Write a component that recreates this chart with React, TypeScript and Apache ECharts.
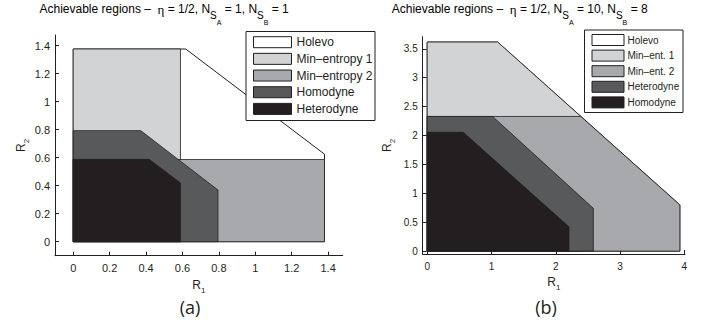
import React, { useEffect, useRef } from "react";
import * as echarts from "echarts";

// ---------- Panel (a): eta = 1/2, N_SA = 1, N_SB = 1 ----------
const holevoA = [[0, 0], [0, 1.376], [0.618, 1.376], [1.38, 0.625], [1.38, 0]];
const minEnt1A = [[0, 0], [0, 1.376], [0.589, 1.376], [0.589, 0]];
const minEnt2A = [[0, 0], [0, 0.587], [1.38, 0.587], [1.38, 0]];
const homodyneA = [[0, 0], [0, 0.793], [0.371, 0.793], [0.795, 0.369], [0.795, 0]];
const heterodyneA = [[0, 0], [0, 0.588], [0.417, 0.588], [0.589, 0.42], [0.589, 0]];

// ---------- Panel (b): eta = 1/2, N_SA = 10, N_SB = 8 ----------
const holevoB = [[0, 0], [0, 3.617], [1.096, 3.617], [3.93, 0.8], [3.93, 0]];
const minEnt1B = [[0, 0], [0, 3.617], [1.096, 3.617], [2.39, 2.33], [2.39, 0]];
const minEnt2B = [[0, 0], [0, 2.33], [2.39, 2.33], [3.93, 0.8], [3.93, 0]];
const heterodyneB = [[0, 0], [0, 2.33], [1.017, 2.33], [2.584, 0.74], [2.584, 0]];
const homodyneB = [[0, 0], [0, 2.057], [0.56, 2.057], [2.205, 0.42], [2.205, 0]];

// ---------- ticks ----------
const xTicksA = [0, 0.2, 0.4, 0.6, 0.8, 1, 1.2, 1.4];
const yTicksA = [0, 0.2, 0.4, 0.6, 0.8, 1, 1.2, 1.4];
const xTicksB = [0, 1, 2, 3, 4];
const yTicksB = [0, 0.5, 1, 1.5, 2, 2.5, 3, 3.5];

// ---------- legends ----------
const legendA = ["Holevo", "Min\u2013entropy 1", "Min\u2013entropy 2", "Homodyne", "Heterodyne"];
const legendB = ["Holevo", "Min\u2013ent. 1", "Min\u2013ent. 2", "Heterodyne", "Homodyne"];

const C_WHITE = "#ffffff";
const C_LIGHT = "#d1d3d4";
const C_MIDL = "#a7a9ac";
const C_MID = "#58595b";
const C_DARK = "#231f20";
const INK = "#231f20";
const FONT = "'Liberation Sans', Arial, Helvetica, sans-serif";

const legendColors = [C_WHITE, C_LIGHT, C_MIDL, C_MID, C_DARK];

function polySeries(name: string, pts: number[][], fill: string, idx: number, lw = 0.8) {
  return {
    type: "custom",
    name,
    xAxisIndex: idx,
    yAxisIndex: idx,
    silent: true,
    clip: false,
    data: pts,
    renderItem: (params: any, api: any) => {
      if (params.dataIndex !== 0) return null;
      const points = pts.map((p) => api.coord(p));
      return {
        type: "polygon",
        shape: { points },
        style: { fill, stroke: INK, lineWidth: lw },
      };
    },
  };
}

function xAxisOf(grid: number, min: number, max: number, ticks: number[], fs: number) {
  return {
    gridIndex: grid,
    type: "value",
    min,
    max,
    axisLine: { show: true, onZero: false, lineStyle: { color: INK, width: 1 } },
    axisTick: { show: true, inside: true, length: 4, customValues: ticks, lineStyle: { color: INK } },
    axisLabel: { customValues: ticks, fontSize: fs, fontFamily: FONT, color: INK, margin: 7, formatter: (v: number) => String(v) },
    splitLine: { show: false },
    name: "{r|R}{s|1}",
    nameLocation: "middle",
    nameGap: 18,
    nameTextStyle: {
      fontFamily: FONT,
      color: INK,
      rich: {
        r: { fontSize: 12, fontFamily: FONT, color: INK, verticalAlign: "top" },
        s: { fontSize: 8, fontFamily: FONT, color: INK, verticalAlign: "top", padding: [8, 0, 0, 0] },
      },
    },
  };
}

function yAxisOf(grid: number, min: number, max: number, ticks: number[], fs: number, gap: number) {
  return {
    gridIndex: grid,
    type: "value",
    min,
    max,
    axisLine: { show: true, onZero: false, lineStyle: { color: INK, width: 1 } },
    axisTick: { show: true, inside: true, length: 4, customValues: ticks, lineStyle: { color: INK } },
    axisLabel: { customValues: ticks, fontSize: fs, fontFamily: FONT, color: INK, margin: 5, formatter: (v: number) => String(v) },
    splitLine: { show: false },
    name: "{r|R}{s|2}",
    nameLocation: "middle",
    nameRotate: 90,
    nameGap: gap,
    nameTextStyle: {
      fontFamily: FONT,
      color: INK,
      rich: {
        r: { fontSize: 12, fontFamily: FONT, color: INK, verticalAlign: "top" },
        s: { fontSize: 8, fontFamily: FONT, color: INK, verticalAlign: "top", padding: [8, 0, 0, 0] },
      },
    },
  };
}

function titleRich() {
  return {
    m: { fontSize: 12, fontFamily: FONT, color: INK, verticalAlign: "top" },
    g: { fontSize: 13, fontFamily: "'Liberation Serif', serif", color: INK, verticalAlign: "top" },
    s: { fontSize: 10, fontFamily: FONT, color: INK, verticalAlign: "top", padding: [7.5, 0, 0, 0] },
    t: { fontSize: 7, fontFamily: FONT, color: INK, verticalAlign: "top", padding: [16, 0, 0, 0] },
  };
}

function legendGraphic(
  labels: string[],
  box: { x: number; y: number; w: number; h: number },
  sw: { x: number; w: number; h: number; top: number; step: number },
  textX: number,
  fs: number
) {
  const els: any[] = [
    {
      type: "rect",
      z: 100,
      shape: { x: box.x, y: box.y, width: box.w, height: box.h },
      style: { fill: "#fff", stroke: INK, lineWidth: 1 },
    },
  ];
  labels.forEach((lab, i) => {
    const top = sw.top + i * sw.step;
    els.push({
      type: "rect",
      z: 101,
      shape: { x: sw.x, y: top, width: sw.w, height: sw.h },
      style: { fill: legendColors[i], stroke: INK, lineWidth: 1 },
    });
    els.push({
      type: "text",
      z: 101,
      x: textX,
      y: top + sw.h / 2,
      style: {
        text: lab,
        fontSize: fs,
        fontFamily: FONT,
        fill: INK,
        align: "left",
        verticalAlign: "middle",
        textAlign: "left",
        textVerticalAlign: "middle",
      },
    });
  });
  return els;
}

export default function App() {
  const ref = useRef<HTMLDivElement>(null);
  useEffect(() => {
    if (!ref.current) return;
    const chart = echarts.init(ref.current, undefined, { renderer: "svg" });
    const option: any = {
      animation: false,
      backgroundColor: "#ffffff",
      grid: [
        { left: 55, top: 35, width: 287.7, height: 220.7, containLabel: false, outerBoundsMode: "none" },
        { left: 422.7, top: 36.7, width: 262.3, height: 217.3, containLabel: false, outerBoundsMode: "none" },
      ],
      xAxis: [xAxisOf(0, -0.1, 1.48, xTicksA, 11), xAxisOf(1, -0.07, 4.01, xTicksB, 10)],
      yAxis: [yAxisOf(0, -0.1, 1.476, yTicksA, 11, 22), yAxisOf(1, -0.05, 3.71, yTicksB, 10, 26)],
      series: [
        polySeries("Holevo", holevoA, C_WHITE, 0, 1),
        polySeries("Min-entropy 1", minEnt1A, C_LIGHT, 0),
        polySeries("Min-entropy 2", minEnt2A, C_MIDL, 0),
        polySeries("Homodyne", homodyneA, C_MID, 0),
        polySeries("Heterodyne", heterodyneA, C_DARK, 0),
        polySeries("Holevo", holevoB, C_WHITE, 1, 1),
        polySeries("Min-ent. 1", minEnt1B, C_LIGHT, 1),
        polySeries("Min-ent. 2", minEnt2B, C_MIDL, 1),
        polySeries("Heterodyne", heterodyneB, C_MID, 1),
        polySeries("Homodyne", homodyneB, C_DARK, 1),
      ],
      graphic: [
        {
          type: "text",
          x: 39.5,
          y: 3.3,
          style: {
            text: "{m|Achievable regions \u2013  }{g|\u03b7}{m| = 1/2, N}{s|S}{t|A}{m| = 1, N}{s|S}{t|B}{m| = 1}",
            rich: titleRich(),
            align: "left",
            verticalAlign: "top",
            textAlign: "left",
            textVerticalAlign: "top",
          },
        },
        {
          type: "text",
          x: 391.7,
          y: 3.3,
          style: {
            text: "{m|Achievable regions \u2013  }{g|\u03b7}{m| = 1/2, N}{s|S}{t|A}{m| = 10, N}{s|S}{t|B}{m| = 8}",
            rich: titleRich(),
            align: "left",
            verticalAlign: "top",
            textAlign: "left",
            textVerticalAlign: "top",
          },
        },
        ...legendGraphic(legendA, { x: 246, y: 31.5, w: 129, h: 89 }, { x: 253.5, w: 38, h: 11, top: 36.7, step: 16.67 }, 296.5, 12),
        ...legendGraphic(legendB, { x: 584.5, y: 30, w: 98.5, h: 82.5 }, { x: 592, w: 32, h: 11, top: 34.5, step: 15.6 }, 627.5, 10),
        {
          type: "text",
          x: 190,
          y: 307,
          style: {
            text: "(a)",
            fontSize: 18,
            fontFamily: "'Open Sans', 'Noto Sans', sans-serif",
            fill: INK,
            align: "center",
            verticalAlign: "middle",
            textAlign: "center",
            textVerticalAlign: "middle",
          },
        },
        {
          type: "text",
          x: 546,
          y: 307,
          style: {
            text: "(b)",
            fontSize: 18,
            fontFamily: "'Open Sans', 'Noto Sans', sans-serif",
            fill: INK,
            align: "center",
            verticalAlign: "middle",
            textAlign: "center",
            textVerticalAlign: "middle",
          },
        },
      ],
    };
    chart.setOption(option);
    return () => chart.dispose();
  }, []);
  return (
    <div
      ref={ref}
      style={{ position: "absolute", left: 0, top: 0, width: 715, height: 328, background: "#fff" }}
    />
  );
}
